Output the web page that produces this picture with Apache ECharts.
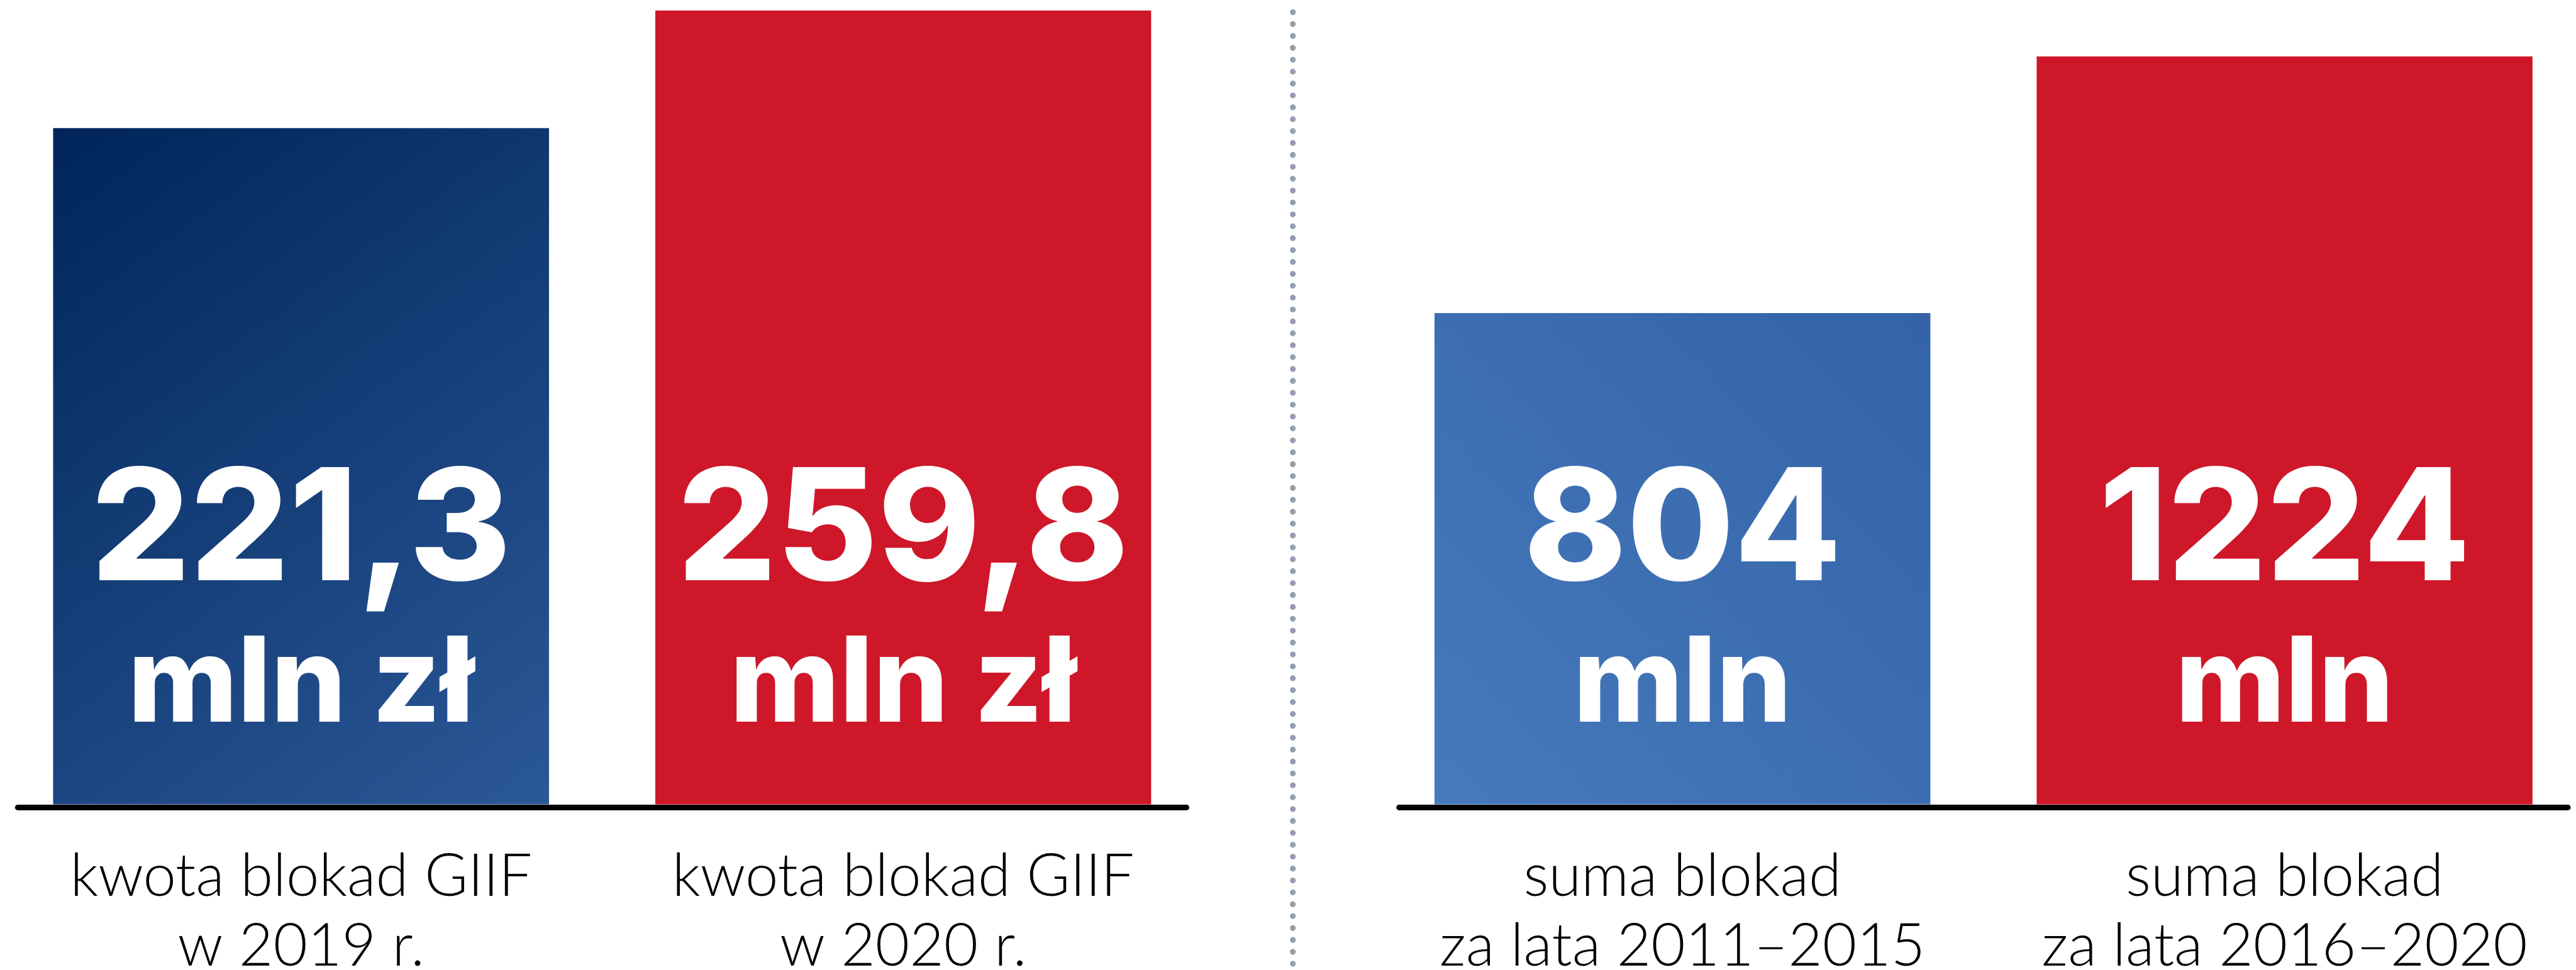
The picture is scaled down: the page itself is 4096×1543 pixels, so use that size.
<!DOCTYPE html>
<html>
<head>
<meta charset="utf-8">
<script src="https://cdn.jsdelivr.net/npm/echarts@6/dist/echarts.min.js"></script>
<style>
html,body{margin:0;padding:0;background:#fff;}
#c{width:4096px;height:1543px;}
</style>
</head>
<body>
<div id="c"></div>
<script>
// ---- data ----
const leftCategories = ['kwota blokad GIIF\nw 2019 r.', 'kwota blokad GIIF\nw 2020 r.'];
const leftValues = [221.3, 259.8];
const leftUnits = ['mln zł', 'mln zł'];
const rightCategories = ['suma blokad\nza lata 2011–2015', 'suma blokad\nza lata 2016–2020'];
const rightValues = [804, 1224];
const rightUnits = ['mln', 'mln'];

// ---- styles ----
const S = 0.88;
const RED = '#ce1729';
const darkBlue = new echarts.graphic.LinearGradient(0, 0, 1, 1, [
  {offset: 0, color: '#00255a'}, {offset: 1, color: '#2b5897'}]);
const lightBlue = new echarts.graphic.LinearGradient(1, 0, 0, 1, [
  {offset: 0, color: '#3463a7'}, {offset: 1, color: '#4679bd'}]);

const labelFont = 'Lato, "Open Sans", sans-serif';
const numFont = 'Inter, Roboto, sans-serif';

const barBottom = 1454 * S;
const barGridW = 1088 * 2 * S;

function catAxis(gridIndex, data) {
  return {
    type: 'category', gridIndex, data,
    axisLine: {show: false}, axisTick: {show: false},
    axisLabel: {
      interval: 0, color: '#000', fontFamily: labelFont, fontWeight: 300,
      fontSize: 94, lineHeight: 111, margin: 60
    }
  };
}
function lineAxis(gridIndex) {
  return {
    type: 'value', gridIndex, min: 0, max: 1,
    axisLabel: {show: false}, axisTick: {show: false}, splitLine: {show: false},
    axisLine: {show: true, lineStyle: {color: '#000', width: 10 * S}}
  };
}
function hiddenY(gridIndex, max) {
  return {type: 'value', gridIndex, min: 0, max, show: false,
    splitLine: {show: false}};
}
function valueLabel(units) {
  return {
    show: true, position: 'insideBottom', distance: 94, color: '#fff',
    formatter: p => '{v|' + String(p.value).replace('.', ',') + '}\n{u|' + units[p.dataIndex] + '}',
    rich: {
      v: {fontFamily: numFont, fontWeight: 800, fontSize: 247, lineHeight: 297, color: '#fff'},
      u: {fontFamily: numFont, fontWeight: 800, fontSize: 188, lineHeight: 188, color: '#fff'}
    }
  };
}
function grid(left, width, height) {
  return {left, top: 0, width, height, containLabel: false, outerBoundsMode: 'none'};
}

const chart = echarts.init(document.getElementById('c'), null, {renderer: 'canvas'});
chart.setOption({
  backgroundColor: '#ffffff',
  animation: false,
  grid: [
    grid(0, barGridW, barBottom),
    grid(2196.48, barGridW, barBottom),
    grid(32 * S, 2112 * S, 1459 * S),
    grid(2528 * S, 2112 * S, 1459 * S)
  ],
  xAxis: [catAxis(0, leftCategories), catAxis(1, rightCategories), lineAxis(2), lineAxis(3)],
  yAxis: [hiddenY(0, 263.24), hiddenY(1, 1316.4), hiddenY(2, 1), hiddenY(3, 1)],
  series: [
    {
      type: 'bar', xAxisIndex: 0, yAxisIndex: 0, barWidth: 896 * S,
      data: leftValues.map((v, i) => ({value: v, itemStyle: {color: i === 0 ? darkBlue : RED}})),
      label: valueLabel(leftUnits)
    },
    {
      type: 'bar', xAxisIndex: 1, yAxisIndex: 1, barWidth: 896 * S,
      data: rightValues.map((v, i) => ({value: v, itemStyle: {color: i === 0 ? lightBlue : RED}})),
      label: valueLabel(rightUnits)
    }
  ],
  graphic: [{
    type: 'line', silent: true,
    shape: {x1: 2336 * S, y1: 22 * S, x2: 2336 * S, y2: 1543},
    style: {stroke: '#939eae', lineWidth: 10.5 * S, lineDash: [0.001, 21.5 * S], lineCap: 'round'}
  }]
});
</script>
</body>
</html>
